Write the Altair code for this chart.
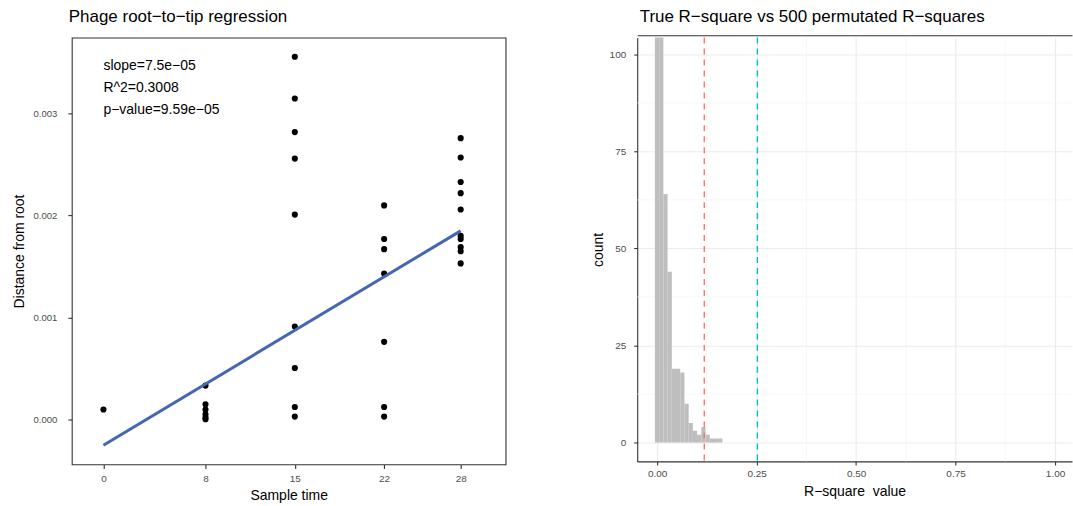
import altair as alt
import pandas as pd

FONT = "Liberation Sans"

# ---------------- Left panel data ----------------
sample_time = [0,
               8, 8, 8, 8, 8, 8,
               15, 15, 15, 15, 15, 15, 15, 15, 15,
               22, 22, 22, 22, 22, 22, 22,
               28, 28, 28, 28, 28, 28, 28, 28, 28, 28]
distance = [0.000095,
            0.00033, 0.000147, 0.000095, 0.000049, 0.000016, 0.0,
            0.00356, 0.00315, 0.00282, 0.00256, 0.00201, 0.00091, 0.000503, 0.00012, 0.000026,
            0.0021, 0.00177, 0.00167, 0.00143, 0.00076, 0.00012, 0.000026,
            0.00276, 0.00257, 0.00233, 0.00222, 0.00206, 0.0018, 0.00177, 0.00169, 0.00165, 0.00153]
fit_x = [0, 28]
fit_y = [-0.000255, 0.00185]
ann_text = ["slope=7.5e\u221205", "R^2=0.3008", "p\u2212value=9.59e\u221205"]
ann_x = [0, 0, 0]
ann_y = [0.00347, 0.003255, 0.00304]
left_xticks = [0, 8, 15, 22, 28]
left_yticks = [0.0, 0.001, 0.002, 0.003]

# ---------------- Right panel data ----------------
hist_counts = [170, 137, 64, 44, 19, 19, 18, 10, 5, 3, 2, 4, 2, 1, 1, 1]
bin_start = -0.0055
bin_width = 0.0106
vline_values = [0.1185, 0.252]
vline_colors = ["#F8766D", "#00BFC4"]
right_xticks = [0, 0.25, 0.5, 0.75, 1.0]
right_yticks = [0, 25, 50, 75, 100]
minor_x = [0.125, 0.375, 0.625, 0.875]
minor_y = [12.5, 37.5, 62.5, 87.5]

# ---------------- common styles ----------------
def axis_kw():
    return dict(labelFont=FONT, titleFont=FONT, labelColor="#4D4D4D", labelFontSize=10,
                titleColor="black", titleFontSize=14, titleFontWeight="normal",
                tickColor="#333333", tickWidth=1.1)

# ---------------- Left panel ----------------
xs = alt.Scale(domain=[-2.48, 31.52], nice=False, zero=False)
ys = alt.Scale(domain=[-0.000444, 0.003748], nice=False, zero=False)

lx_axis = alt.Axis(values=left_xticks, title="Sample time", grid=False, domain=False,
                   tickSize=4, labelPadding=5, titlePadding=5, **axis_kw())
ly_axis = alt.Axis(values=left_yticks, format=".3f", title="Distance from root", grid=False,
                   domain=False, tickSize=4, labelPadding=11, titlePadding=6,
                   **{**axis_kw(), "labelFontSize": 9.6})

pts = pd.DataFrame({"t": sample_time, "d": distance})
points = alt.Chart(pts).mark_circle(size=38, color="black", opacity=1).encode(
    x=alt.X("t:Q", scale=xs, axis=lx_axis),
    y=alt.Y("d:Q", scale=ys, axis=ly_axis),
)
fit = alt.Chart(pd.DataFrame({"t": fit_x, "d": fit_y})).mark_line(
    color="#4566B0", strokeWidth=3).encode(x="t:Q", y="d:Q")
ann = alt.Chart(pd.DataFrame({"t": ann_x, "d": ann_y, "label": ann_text})).mark_text(
    align="left", baseline="middle", fontSize=14, font=FONT, color="black").encode(
    x="t:Q", y="d:Q", text="label:N")

left = alt.layer(points, fit, ann).properties(
    width=435, height=428,
    title=alt.TitleParams("Phage root\u2212to\u2212tip regression", anchor="start", frame="group",
                          dx=-3, fontSize=17, font=FONT, fontWeight="normal", color="black",
                          offset=12),
    view=alt.ViewBackground(stroke="#333333", strokeWidth=1.1),
)

# ---------------- Right panel ----------------
rx = alt.Scale(domain=[-0.05, 1.0426], nice=False, zero=False)
ry = alt.Scale(domain=[-4.88, 104.32], nice=False, zero=False)

bins = pd.DataFrame({
    "r": [bin_start + i * bin_width for i in range(len(hist_counts))],
    "r2": [bin_start + (i + 1) * bin_width for i in range(len(hist_counts))],
    "cnt": hist_counts,
    "base": [0] * len(hist_counts),
})

minor_v = alt.Chart(pd.DataFrame({"r": minor_x})).mark_rule(
    color="#F3F3F3", strokeWidth=0.7).encode(x=alt.X("r:Q", scale=rx, axis=None))
minor_h = alt.Chart(pd.DataFrame({"cnt": minor_y})).mark_rule(
    color="#F3F3F3", strokeWidth=0.7).encode(y=alt.Y("cnt:Q", scale=ry, axis=None))

rx_axis = alt.Axis(values=right_xticks, format=".2f", title="R\u2212square\u00a0 value",
                   grid=True, gridColor="#EBEBEB", gridWidth=1.1,
                   domain=True, domainColor="#333333", domainWidth=1.1,
                   tickSize=3.5, labelPadding=4, titlePadding=6, **axis_kw())
ry_axis = alt.Axis(values=right_yticks, title="count",
                   grid=True, gridColor="#EBEBEB", gridWidth=1.1,
                   domain=True, domainColor="#333333", domainWidth=1.1,
                   tickSize=3.5, labelPadding=8, titlePadding=4, **axis_kw())

bars = alt.Chart(bins).mark_rect(color="#BEBEBE", clip=True).encode(
    x=alt.X("r:Q", scale=rx, axis=rx_axis),
    x2="r2:Q",
    y=alt.Y("cnt:Q", scale=ry, axis=ry_axis),
    y2="base:Q",
)

top_axis = alt.Axis(orient="top", labels=False, ticks=False, grid=False, title=None,
                    domain=True, domainColor="#333333", domainWidth=1.1, offset=2.4)
vlines = alt.Chart(pd.DataFrame({"r": vline_values, "col": vline_colors})).mark_rule(
    strokeWidth=1.4, strokeDash=[6, 5]).encode(
    x=alt.X("r:Q", scale=rx, axis=top_axis),
    color=alt.Color("col:N", scale=None),
)

right = alt.layer(minor_v, minor_h, bars, vlines).resolve_axis(x="independent", y="independent").properties(
    width=436, height=425,
    title=alt.TitleParams("True R\u2212square vs 500 permutated R\u2212squares", anchor="start",
                          frame="group", dx=2.5, fontSize=17, font=FONT, fontWeight="normal",
                          color="black", offset=9),
)

chart = alt.hconcat(left, right, spacing=84).properties(
    padding={"left": 12, "top": 6, "right": 0, "bottom": 0},
    background="white",
).configure_view(stroke=None)

chart.save("out.html", embed_options={"renderer": "svg", "actions": False})
